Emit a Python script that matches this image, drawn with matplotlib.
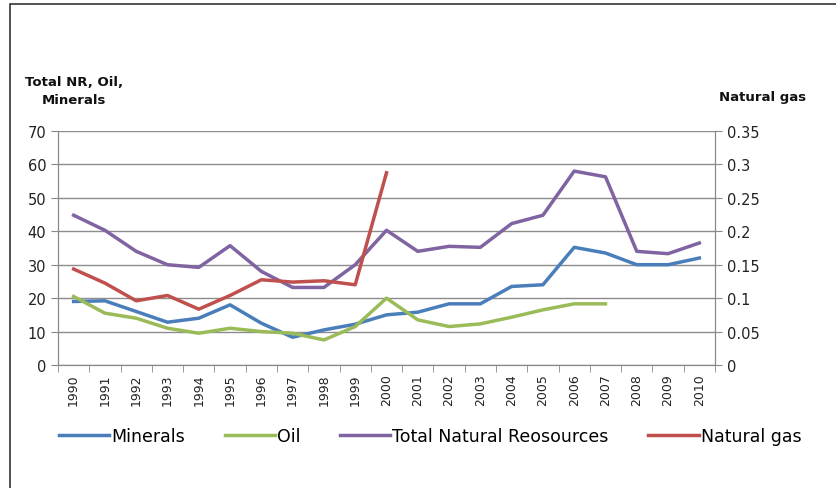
import matplotlib
matplotlib.use('Agg')
from matplotlib import pyplot as plt
from matplotlib.patches import Rectangle

# Dados
anos = [str(a) for a in range(1990, 2011)]
minerals = [19, 19.2, 16, 12.8, 14, 18, 12.5, 8.3, 10.5, 12.2, 15, 15.8, 18.3, 18.3,
            23.5, 24, 35.2, 33.5, 30, 30, 32]
oil = [20.5, 15.5, 14, 11, 9.5, 11, 10, 9.5, 7.5, 11.5, 20, 13.5, 11.5, 12.3,
       14.3, 16.5, 18.3, 18.3]
total_nr = [44.8, 40.3, 34, 30, 29.2, 35.7, 28, 23.2, 23.2, 30, 40.3, 34, 35.5, 35.2,
            42.3, 44.8, 58, 56.3, 34, 33.3, 36.5]
natural_gas = [0.1435, 0.1225, 0.096, 0.104, 0.0835, 0.104, 0.1275, 0.124, 0.126, 0.12,
               0.2875]
left_ticks = [0, 10, 20, 30, 40, 50, 60, 70]
right_ticks = [0, 0.05, 0.1, 0.15, 0.2, 0.25, 0.3, 0.35]
right_labels = ['0', '0.05', '0.1', '0.15', '0.2', '0.25', '0.3', '0.35']

cores = {'Minerals': '#4A7EBB', 'Oil': '#9BBB59',
         'Total Natural Reosources': '#8064A2', 'Natural gas': '#C0504D'}

fig = plt.figure(figsize=(8.36, 4.89), dpi=100)
fig.patches.append(Rectangle((10 / 836, -0.1), 1.2, 1 - 5 / 489 + 0.1,
                             transform=fig.transFigure, fill=False,
                             edgecolor='#333333', linewidth=1.2))

ax = fig.add_axes([58 / 836, 1 - 366 / 489, (715 - 58) / 836, (366 - 132) / 489])
ax2 = ax.twinx()

x = list(range(len(anos)))
lw = 2.5
l1, = ax.plot(x, minerals, color=cores['Minerals'], lw=lw, label='Minerals')
l2, = ax.plot(x[:len(oil)], oil, color=cores['Oil'], lw=lw, label='Oil')
l3, = ax.plot(x, total_nr, color=cores['Total Natural Reosources'], lw=lw,
              label='Total Natural Reosources')
l4, = ax2.plot(x[:len(natural_gas)], natural_gas, color=cores['Natural gas'], lw=lw,
               label='Natural gas')

ax.set_xlim(-0.5, len(anos) - 0.5)
ax.set_ylim(0, 70)
ax2.set_ylim(0, 0.35)
ax.set_yticks(left_ticks)
ax2.set_yticks(right_ticks)
ax2.set_yticklabels(right_labels)

ax.set_xticks(x)
ax.set_xticklabels(anos, rotation=90, fontsize=9, color='#222222')
ax.set_xticks([i - 0.5 for i in range(len(anos) + 1)], minor=True)
ax.tick_params(axis='x', which='major', length=0, pad=6)
ax.tick_params(axis='x', which='minor', length=5, color='#888888')
ax.tick_params(axis='y', labelsize=10.5, colors='#222222', length=5, color='#888888')
ax2.tick_params(axis='y', labelsize=10.5, colors='#222222', length=5, color='#888888')
for lab in ax.get_yticklabels() + ax2.get_yticklabels():
    lab.set_color('#222222')

ax.grid(axis='y', color='#8c8c8c', linewidth=1)
ax.set_axisbelow(True)
for a in (ax, ax2):
    a.spines['top'].set_visible(False)
    for s in ('left', 'right', 'bottom'):
        a.spines[s].set_color('#888888')

fig.text(25 / 836, 1 - 83 / 489, 'Total NR, Oil,', fontsize=9.5, fontweight='bold',
         ha='left', va='center', color='#111111')
fig.text(42 / 836, 1 - 101 / 489, 'Minerals', fontsize=9.5, fontweight='bold',
         ha='left', va='center', color='#111111')
fig.text(719 / 836, 1 - 97 / 489, 'Natural gas', fontsize=9.5, fontweight='bold',
         ha='left', va='center', color='#111111')

fig.legend(handles=[l1, l2, l3, l4], loc='center', bbox_to_anchor=(430 / 836, 1 - 437 / 489),
           ncol=4, frameon=False, fontsize=12.5, handlelength=2.9, handletextpad=0.1,
           columnspacing=2.3, borderpad=0, borderaxespad=0)

plt.savefig('out.png', dpi=100)
